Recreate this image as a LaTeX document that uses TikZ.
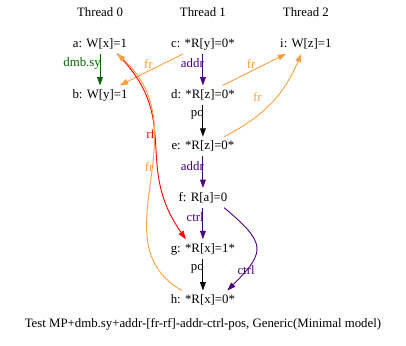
\documentclass[tikz,border=0pt]{standalone}
\usepackage{fontspec}
\setmainfont{Liberation Serif}
\usetikzlibrary{matrix, arrows.meta}
\definecolor{frorange}{HTML}{FFA040}
\definecolor{depindigo}{HTML}{4B0082}
\definecolor{fencegreen}{HTML}{006400}

\begin{document}
\begin{tikzpicture}[>={Triangle[length=6.5pt,width=4.5pt]},
    fr/.style={->, color=frorange, line width=0.7pt},
    rf/.style={->, color=red, line width=0.7pt},
    po/.style={->, color=black, line width=0.7pt},
    dep/.style={->, color=depindigo, line width=0.7pt},
    fence/.style={->, color=fencegreen, line width=0.7pt},
    lab/.style={inner sep=0pt, font=\fontsize{10}{12}\selectfont}]
\useasboundingbox (0,0) rectangle (316.7pt,-269.9pt);
\matrix [matrix of nodes, anchor=m-1-2.center, column sep=10.3pt, row sep=25pt,
    nodes={inner sep=3pt, minimum width=70pt, text height=7pt, text depth=2pt,
        font=\fontsize{10}{12}\selectfont}] (m) at (158.3pt,-10.1pt)
{
    Thread 0 & Thread 1 & Thread 2 \\[-15.8pt]
    a: W[x]=1 & c: *R[y]=0* & i: W[z]=1 \\
    b: W[y]=1 & d: *R[z]=0* & \\
    & e: *R[z]=0* & \\
    & f: R[a]=0 & \\
    & g: *R[x]=1* & \\
    & h: *R[x]=0* & \\
};
\draw[fence] (m-2-1) -- node[lab, pos=0.3, left=-1pt] {dmb.sy} (m-3-1);
\draw[dep] (m-2-2) -- node[lab, pos=0.3, left=-1pt] {addr} (m-3-2);
\draw[fr] (m-2-2) -- node[lab, pos=0.55, above=2pt] {fr} (m-3-1);
\draw[fr] (m-3-2) -- node[lab, pos=0.45, above=2pt] {fr} (m-2-3);
\draw[fr] (m-4-2) to[bend right=20] node[lab, pos=0.45, above left=4pt] {fr} (m-2-3);
\draw[po] (m-3-2) -- node[lab, pos=0.3, left=-1pt] {po} (m-4-2);
\draw[dep] (m-4-2) -- node[lab, pos=0.3, left=-1pt] {addr} (m-5-2);
\draw[dep] (m-5-2) -- node[lab, pos=0.3, left=-1pt] {ctrl} (m-6-2);
\draw[po] (m-6-2) -- node[lab, pos=0.3, left=-1pt] {po} (m-7-2);
\draw[dep] (m-5-2.-25) to[out=-40, in=45, looseness=1.7] node[lab, pos=0.8] {ctrl} (m-7-2.22);
\draw[rf] (m-2-1.-30) to[out=-45, in=125, looseness=1.2] node[lab, pos=0.45, left=0pt] {rf} (m-6-2.150);
\draw[fr] (m-7-2.155) .. controls +(150:76pt) and +(-42:89pt) .. node[lab, pos=0.56, left=-2pt] {fr} (m-2-1.-30);
\node[font=\fontsize{10}{12}\selectfont] (cap) at (158.3pt,-252.7pt) {Test MP+dmb.sy+addr-[fr-rf]-addr-ctrl-pos, Generic(Minimal model)};
\end{tikzpicture}
\end{document}
